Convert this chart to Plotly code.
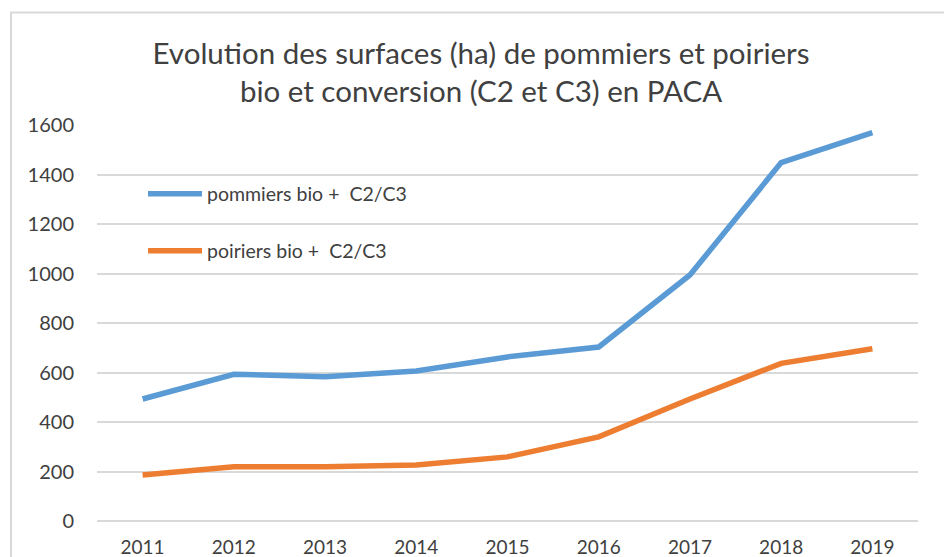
import plotly.graph_objects as go

years = ["2011", "2012", "2013", "2014", "2015", "2016", "2017", "2018", "2019"]
pommiers = [493, 593, 583, 606, 663, 703, 994, 1448, 1569]
poiriers = [186, 219, 219, 226, 259, 340, 493, 637, 696]
names = ["pommiers bio +  C2/C3", "poiriers bio +  C2/C3"]
yticks = [0, 200, 400, 600, 800, 1000, 1200, 1400, 1600]

FONT = "Lato"
TXT = "#404040"
OFF = 8  # page body margin
W, H = 952 - OFF, 557 - OFF
L, R, T, B = 97 - OFF, 918 - OFF, 125 - OFF, 521 - OFF

fig = go.Figure()
fig.add_trace(go.Scatter(x=years, y=pommiers, mode="lines", name=names[0],
                         line=dict(color="#5B9BD5", width=5.5),
                         legend="legend", cliponaxis=False))
fig.add_trace(go.Scatter(x=years, y=poiriers, mode="lines", name=names[1],
                         line=dict(color="#ED7D31", width=5.5),
                         legend="legend2", cliponaxis=False))

pw, ph = R - L, B - T
def px(x):  # reference pixel -> paper
    return (x - OFF - L) / pw
def py(y):
    return (B - (y - OFF)) / ph

fig.update_layout(
    width=W, height=H,
    margin=dict(l=L, r=W - R, t=T, b=H - B, autoexpand=False),
    paper_bgcolor="white", plot_bgcolor="white",
    font=dict(family=FONT, color=TXT, size=19),
    title=dict(text="Evolution des surfaces (ha) de pommiers et poiriers<br>bio et conversion (C2 et C3) en PACA",
               x=(481 - OFF) / W, xanchor="center", y=1 - (64 - OFF) / H, yanchor="middle",
               font=dict(size=29.5, family=FONT, color=TXT)),
    xaxis=dict(type="category", range=[-0.5, 8.5], showgrid=False, zeroline=False,
               showline=False, ticks="", tickfont=dict(size=19), ticklabelstandoff=13,
               automargin=False),
    yaxis=dict(range=[0, 1600], tickvals=yticks, showgrid=True, gridcolor="#D9D9D9",
               gridwidth=2, zeroline=True, zerolinecolor="#D9D9D9", zerolinewidth=2,
               showline=False, ticks="", tickfont=dict(size=20), ticklabelstandoff=22,
               automargin=False),
    legend=dict(x=px(143), y=py(194), xanchor="left", yanchor="middle",
                bgcolor="rgba(0,0,0,0)", font=dict(size=19.5), itemwidth=54),
    legend2=dict(x=px(143), y=py(251), xanchor="left", yanchor="middle",
                 bgcolor="rgba(0,0,0,0)", font=dict(size=19.5), itemwidth=54),
    showlegend=True,
)

fig.add_shape(type="rect", xref="paper", yref="paper",
              x0=px(11), x1=px(949), y0=py(620), y1=py(12.5),
              line=dict(color="#D9D9D9", width=2), fillcolor="rgba(0,0,0,0)", layer="below")

fig.write_html("out.html")
